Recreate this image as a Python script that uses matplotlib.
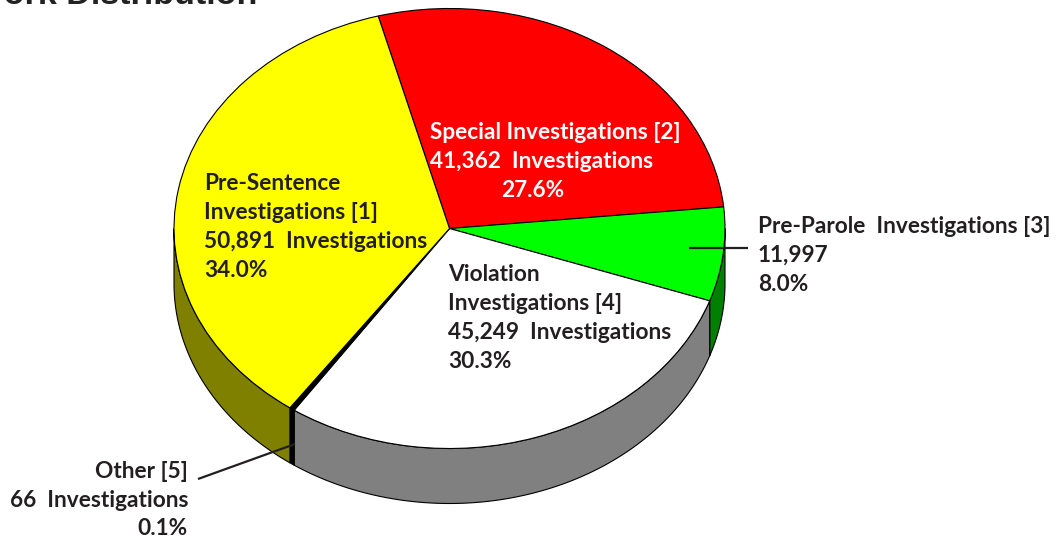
import numpy as np
import matplotlib
matplotlib.use("Agg")
from matplotlib import pyplot as plt

# slice shares as drawn in the picture (the source chart is a bit distorted)
# the printed figures are in the labels below
slice_names = ["Special", "Pre-Parole", "Violation", "Other", "Pre-Sentence"]
drawn_share = [27.6, 6.9, 29.2, 0.3, 36.0]
top_colors = ["#ff0000", "#00ff00", "#ffffff", "#000000", "#ffff00"]
wall_colors = ["#800000", "#008000", "#808080", "#000000", "#808000"]

label_font = "Lato"
ink = "#231f20"

# (x, baseline y, ha, color, text) in image pixels
label_lines = [
    (204, 190, "left", ink, "Pre-Sentence"),
    (204, 219, "left", ink, "Investigations [1]"),
    (204, 248, "left", ink, "50,891  Investigations"),
    (204, 277, "left", ink, "34.0%"),
    (430, 139, "left", "white", "Special Investigations [2]"),
    (430, 168, "left", "white", "41,362  Investigations"),
    (501, 197, "left", "white", "27.6%"),
    (758, 233, "left", ink, "Pre-Parole  Investigations [3]"),
    (758, 262, "left", ink, "11,997"),
    (758, 291, "left", ink, "8.0%"),
    (448, 281, "left", ink, "Violation"),
    (448, 310, "left", ink, "Investigations [4]"),
    (448, 339, "left", ink, "45,249  Investigations"),
    (448, 368, "left", ink, "30.3%"),
    (188, 478, "right", ink, "Other [5]"),
    (188, 507, "right", ink, "66  Investigations"),
    (188, 535, "right", ink, "0.1%"),
]

W, H = 1060, 541
cx, cy, rx, ry = 449.5, 228.5, 275.5, 220.0
depth = 55 / ry
start_angle = 105

fig = plt.figure(figsize=(W / 100, H / 100), dpi=100)
ax = fig.add_axes([0, 0, 1, 1])

# side walls first, then the top face over them
angles = start_angle - np.cumsum([0] + drawn_share) * 3.6
for a0, a1, c in zip(angles[:-1], angles[1:], wall_colors):
    # keep only the part of the slice on the front of the pie
    lo = a1 % 360
    hi = lo + (a0 - a1)
    lo, hi = max(lo, 180), min(hi, 360)
    if hi <= lo:
        continue
    t = np.radians(np.linspace(lo, hi, 120))
    xs = np.r_[np.cos(t), np.cos(t[::-1])]
    ys = np.r_[np.sin(t), np.sin(t[::-1]) - depth]
    ax.fill(xs, ys, facecolor=c, edgecolor="black", linewidth=0.8, zorder=1)

wedges, _ = ax.pie(drawn_share, colors=top_colors, startangle=start_angle, counterclock=False,
                   wedgeprops=dict(edgecolor="black", linewidth=0.8, zorder=2))
ax.set_aspect("auto")
ax.set_xlim(-cx / rx, (W - cx) / rx)
ax.set_ylim((cy - H) / ry, cy / ry)
ax.axis("off")

# overlay in image pixels for the labels and leaders
ov = fig.add_axes([0, 0, 1, 1])
ov.set_xlim(0, W)
ov.set_ylim(H, 0)
ov.axis("off")
ov.patch.set_alpha(0)

ov.plot([689, 748], [248, 248], color=ink, lw=1.6, solid_capstyle="butt")
ov.plot([198, 295], [479, 444], color=ink, lw=1.6, solid_capstyle="butt")

for x, y, ha, col, s in label_lines:
    ov.text(x, y, s, ha=ha, va="baseline", color=col, fontsize=16.3,
            fontweight="bold", family=label_font)

ov.text(257, 4.5, "Work Distribution", ha="right", va="baseline", color="#222222",
        fontsize=24.6, fontweight="bold", family="Liberation Sans")

fig.savefig("out.png", dpi=100)
